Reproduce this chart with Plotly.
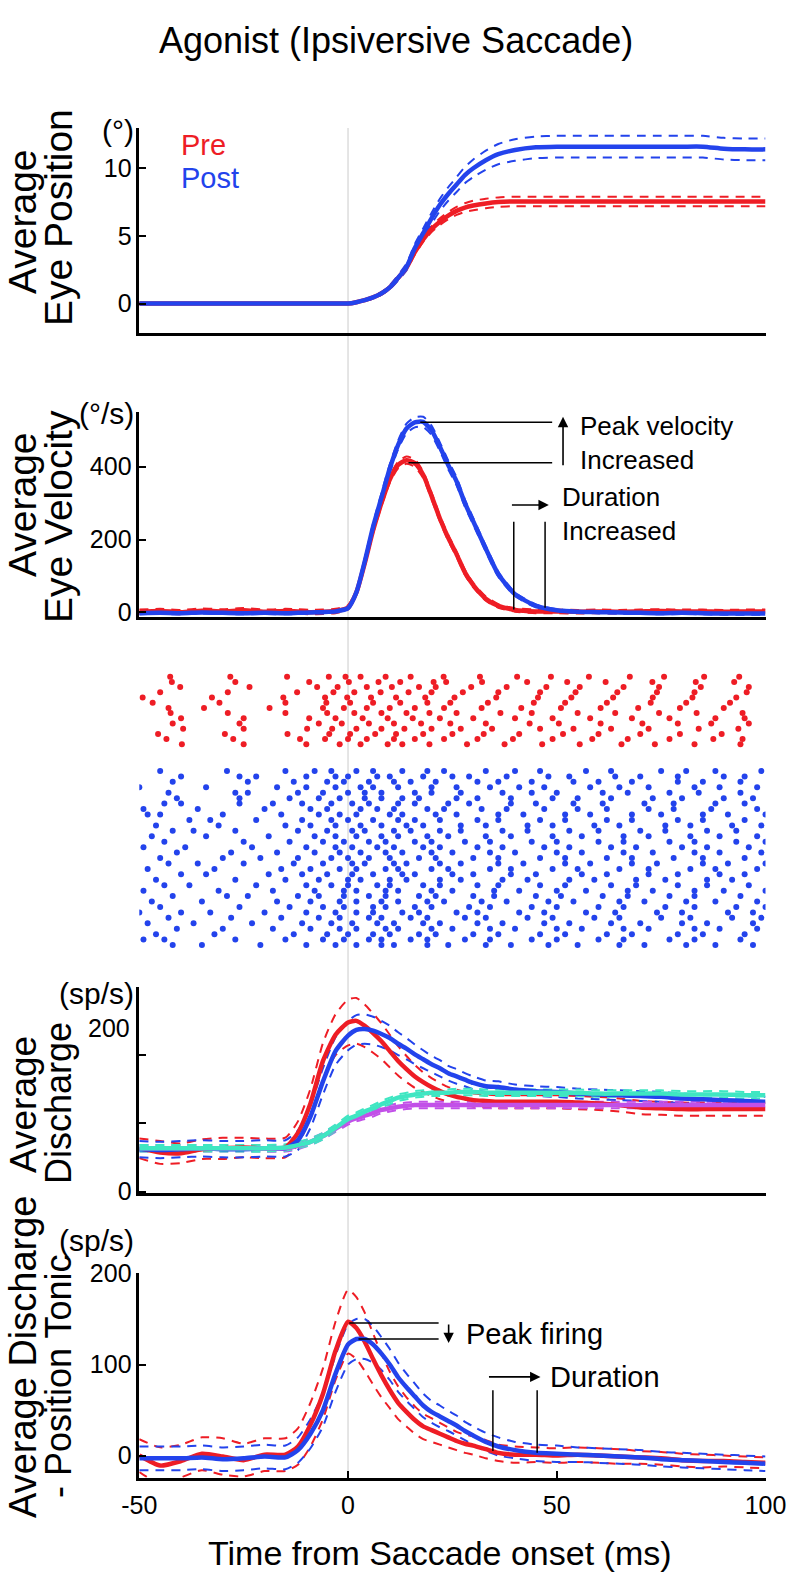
import plotly.graph_objects as go

# ---------------- data ----------------
T = [-50, -45, -40, -35, -30, -25, -20, -15, -12, -9, -6, -3, 0, 2, 4, 6, 8, 10, 12, 14, 16,
     18, 20, 22, 24, 26, 28, 30, 33, 36, 40, 45, 50, 55, 60, 65, 70, 75, 80, 85, 90, 95, 100]

# Panel 1: eye position (deg)
POS_PRE = [0]*12 + [0, 0.1, 0.25, 0.45, 0.75, 1.2, 1.9, 2.65, 3.8, 4.75, 5.5, 6.05, 6.5, 6.85,
                    7.1, 7.25, 7.4, 7.5] + [7.55]*13
POS_PRE_SE = [0]*12 + [0, 0.02, 0.04, 0.06, 0.08, 0.1, 0.12, 0.15, 0.18, 0.2, 0.22, 0.25, 0.27,
                       0.3, 0.32] + [0.35]*16
POS_POST = [0]*12 + [0, 0.1, 0.25, 0.45, 0.75, 1.2, 1.9, 2.7, 4.1, 5.2, 6.3, 7.3, 8.1, 8.8, 9.5,
                     10.0, 10.6, 11.05, 11.35, 11.55, 11.6, 11.6, 11.6, 11.6, 11.6, 11.6, 11.6,
                     11.6, 11.45, 11.4, 11.4]
POS_POST_SE = [0]*12 + [0, 0.02, 0.05, 0.08, 0.1, 0.15, 0.2, 0.25, 0.3, 0.35, 0.4, 0.45, 0.5,
                        0.55, 0.6, 0.65, 0.7, 0.75] + [0.8]*13

# Panel 2: eye velocity (deg/s)
VEL_PRE = [2, 4, 1, 5, 3, 6, 2, 4, 3, 1, 2, 4, 14, 55, 135, 225, 300, 365, 405, 418, 410, 378,
           320, 258, 205, 160, 110, 75, 38, 18, 7, 3, 3, 2, 3, 2, 3, 4, 3, 3, 2, 3, 3]
VEL_PRE_SE = [6]*12 + [6, 6, 7, 8, 8, 9, 9, 10, 10, 9, 9, 8, 8, 7, 7, 6, 6, 5, 5] + [5]*12
VEL_POST = [-2, -1, -2, 0, -1, -2, -1, -2, -1, 0, 1, 3, 12, 55, 140, 235, 315, 395, 460, 505,
            522, 523, 500, 455, 405, 360, 300, 250, 175, 105, 50, 18, 6, 2, 1, 0, -1, -2, -1,
            -2, -3, -3, -3]
VEL_POST_SE = [3]*12 + [3, 5, 8, 10, 12, 12, 12, 13, 14, 14, 13, 12, 12, 11, 10, 9, 8, 7, 5,
                        4] + [3]*11

# Panel 3: spike rasters (spike times in ms, one list per trial)
RED_SPIKES = [
    [-42.6, -28.2, -14.6, -4.6, -0.6, 3.0, 9.0, 15.0, 22.9, 31.6, 40.5, 48.6, 57.7, 67.5, 75.7, 85.3, 93.7],
    [-42.2, -27.0, -9.3, 0.2, 7.3, 12.5, 20.5, 23.5, 32.1, 42.9, 52.5, 61.7, 72.9, 83.3, 92.5],
    [-40.2, -23.6, -7.4, -2.5, 4.5, 10.5, 17.0, 21.0, 29.5, 38.0, 47.5, 55.5, 66.0, 74.5, 84.5, 96.0],
    [-45.0, -28.8, -12.2, -3.5, 1.5, 7.8, 14.5, 20.0, 27.5, 36.0, 46.0, 54.5, 64.5, 74.0, 83.0, 95.5],
    [-49.2, -32.6, -15.5, -5.5, -0.2, 5.5, 11.5, 18.5, 25.5, 35.5, 45.5, 53.5, 63.5, 73.0, 82.5, 93.0],
    [-46.8, -30.8, -15.0, -5.2, 0.5, 6.0, 12.5, 19.0, 24.5, 33.5, 44.5, 52.0, 62.0, 72.5, 81.0, 91.5],
    [-43.0, -34.5, -18.8, -6.0, -1.0, 4.5, 10.0, 16.0, 23.0, 32.0, 41.5, 51.0, 60.5, 69.5, 79.5, 90.0],
    [-42.5, -28.8, -15.0, -5.0, 1.5, 8.0, 14.0, 19.5, 26.0, 36.5, 44.0, 55.0, 64.0, 74.5, 83.5, 94.5],
    [-40.0, -25.0, -9.3, -3.0, 3.5, 9.5, 15.5, 22.0, 30.0, 40.0, 49.0, 58.0, 68.0, 77.0, 88.0, 95.0],
    [-42.0, -26.0, -7.0, -1.5, 5.0, 11.0, 17.5, 24.5, 33.0, 43.5, 50.5, 60.5, 70.5, 79.0, 87.0, 96.0],
    [-39.5, -25.0, -9.8, -3.8, 2.0, 8.0, 13.5, 20.0, 27.0, 34.5, 46.0, 54.0, 63.0, 72.0, 84.0, 93.5],
    [-45.5, -29.5, -14.5, -4.5, 0.5, 6.5, 11.5, 18.0, 25.0, 32.5, 41.0, 51.5, 60.0, 70.0, 79.5, 89.5],
    [-43.5, -27.5, -11.5, -5.5, 0.0, 4.5, 11.0, 16.0, 23.0, 31.0, 39.5, 49.0, 58.5, 67.0, 77.0, 87.5, 94.5],
    [-39.8, -25.0, -10.0, -2.0, 3.0, 9.5, 13.0, 19.5, 28.5, 37.5, 46.5, 55.5, 65.5, 73.5, 83.0, 94.0],
]
BLUE_SPIKES = [
    [-45, -29, -15, -8, -4, 2, 6, 13, 19, 23, 33, 40, 46, 57, 63, 75, 81, 88, 99],
    [-40, -26, -22, -10, -3, 0, 7, 10, 18, 25, 29, 38, 48, 53, 64, 70, 79, 90, 95],
    [-42, -24, -13, -5, -1, 5, 11, 15, 21, 31, 36, 44, 54, 60, 68, 79, 85, 94],
    [-50, -34, -17, -10, -3, 3, 6, 12, 20, 26, 34, 41, 47, 58, 65, 72, 83, 89, 98],
    [-43, -27, -24, -12, -6, 0, 4, 8, 16, 20, 27, 37, 44, 50, 61, 67, 77, 84, 94],
    [-41, -26, -14, -7, -2, 4, 8, 13, 17, 26, 31, 39, 49, 55, 63, 73, 80, 90, 97],
    [-44, -40, -26, -18, -11, -4, 1, 5, 12, 16, 24, 29, 39, 45, 54, 61, 71, 78, 88, 95],
    [-49, -36, -20, -9, -5, 3, 7, 11, 19, 23, 32, 38, 47, 55, 62, 72, 78, 87, 98],
    [-48, -45, -30, -16, -7, -2, 2, 10, 13, 21, 26, 36, 42, 52, 58, 68, 75, 85, 91, 100],
    [-38, -33, -22, -11, -4, 0, 6, 12, 16, 22, 31, 36, 46, 52, 62, 68, 79, 85, 95],
    [-46, -31, -15, -9, -3, 3, 8, 14, 18, 27, 33, 43, 49, 59, 65, 76, 82, 92, 99],
    [-42, -37, -27, -12, -5, 1, 4, 11, 15, 22, 27, 37, 43, 53, 60, 70, 76, 86, 93],
    [-47, -34, -19, -8, -3, 2, 8, 12, 19, 24, 33, 39, 49, 56, 66, 72, 82, 89, 98],
    [-44, -25, -14, -6, -1, 5, 9, 16, 20, 28, 34, 44, 50, 60, 66, 77, 83, 93, 100],
    [-49, -39, -23, -10, -3, 1, 7, 11, 18, 22, 31, 37, 47, 53, 63, 69, 80, 86, 96],
    [-41, -28, -17, -8, -2, 3, 9, 13, 20, 25, 34, 40, 50, 56, 66, 73, 83, 89, 99],
    [-45, -30, -21, -12, -4, 0, 5, 10, 17, 21, 30, 36, 46, 52, 62, 68, 78, 85, 95],
    [-43, -36, -25, -13, -6, 1, 4, 11, 14, 22, 27, 36, 42, 52, 58, 68, 74, 85, 91, 100],
    [-48, -32, -16, -9, -2, 2, 9, 12, 20, 24, 34, 39, 49, 55, 65, 72, 82, 88, 98],
    [-40, -34, -19, -11, -5, 1, 6, 13, 16, 25, 30, 39, 45, 56, 62, 72, 79, 89, 95],
    [-46, -27, -15, -7, 0, 3, 10, 14, 22, 27, 37, 43, 53, 59, 69, 76, 86, 92],
    [-44, -38, -22, -10, -4, 0, 7, 10, 18, 22, 31, 36, 46, 52, 63, 69, 79, 86, 96],
    [-49, -31, -18, -8, -1, 2, 9, 12, 20, 25, 35, 41, 50, 57, 67, 73, 83, 90, 100],
    [-42, -29, -24, -12, -7, -1, 5, 9, 17, 21, 30, 35, 45, 51, 61, 67, 77, 83, 94],
    [-47, -35, -17, -9, -2, 2, 8, 12, 19, 23, 32, 38, 48, 54, 65, 71, 81, 88, 98],
    [-45, -26, -14, -6, -1, 6, 9, 16, 20, 29, 34, 44, 50, 60, 66, 76, 83, 93, 100],
    [-50, -40, -33, -20, -10, -3, 2, 6, 13, 17, 26, 31, 41, 47, 57, 64, 74, 80, 91, 97],
    [-43, -28, -16, -7, -2, 5, 8, 15, 19, 28, 33, 43, 49, 59, 65, 75, 82, 92, 99],
    [-48, -37, -23, -11, -4, 1, 7, 11, 18, 22, 31, 37, 47, 53, 63, 70, 80, 86, 97],
    [-41, -30, -18, -9, -2, 2, 9, 12, 20, 25, 34, 40, 50, 56, 66, 72, 83, 89, 98],
    [-46, -32, -13, -5, 0, 6, 10, 17, 21, 30, 36, 46, 52, 62, 68, 79, 85, 95],
    [-49, -44, -27, -15, -6, -1, 5, 8, 15, 19, 28, 34, 44, 50, 60, 66, 77, 83, 94],
    [-42, -35, -21, -10, -3, 2, 8, 11, 19, 24, 33, 39, 48, 55, 65, 71, 81, 88, 97],
]

# Panel 4: average discharge (sp/s)
FR_PRE = [53, 48, 47, 52, 53, 54, 53, 54, 72, 108, 160, 192, 207, 209, 203, 194, 184, 172, 160,
          150, 141, 134, 128, 123, 119, 116, 114, 112, 111, 110, 110, 110, 110, 109, 108, 106,
          103, 102, 101, 101, 101, 101, 101]
FR_PRE_SE = [12, 14, 12, 12, 13, 12, 12, 12, 14, 18, 22, 25, 28, 28, 26, 24, 22, 20, 18, 16, 14,
             12, 11, 10, 9, 9] + [8]*17
FR_POST = [52, 51, 52, 53, 52, 52, 53, 53, 63, 92, 135, 172, 191, 198, 199, 197, 193, 188, 181,
           175, 168, 162, 156, 151, 145, 141, 137, 133, 129, 128, 125, 123, 122, 120, 119, 118,
           117, 116, 114, 113, 112, 111, 110]
FR_POST_SE = [10]*8 + [12, 14, 16, 17, 18, 18, 18, 17, 16, 15, 14, 13, 12, 11, 10, 10, 9, 9, 8,
                       8, 7, 7] + [6]*13
TONIC_POST = [53, 53, 53, 53, 53, 53, 53, 54, 57, 61, 68, 78, 89, 93, 98, 102, 107, 111, 115, 117,
              119, 120, 121, 121, 121, 122, 122, 122, 121, 121, 121, 121, 121, 121, 120, 120, 120,
              120, 119, 119, 119, 118, 118]
TONIC_POST_SE = [4]*43
TONIC_PRE = [53]*8 + [56, 61, 68, 77, 86, 90, 93, 96, 100, 102, 104, 105] + [106]*23
TONIC_PRE_SE = [4]*43

# Panel 5: discharge minus position tonic (sp/s)
DT_PRE = [0, -11, -6, 2, -1, -5, 1, 1, 10, 34, 68, 115, 147, 140, 125, 106, 88, 72, 58, 48, 39,
          32, 28, 24, 20, 16, 13, 11, 7, 3, 1, 1, 0, 1, 0, -1, -2, -3, -5, -6, -6, -7, -8]
DT_PRE_SE = [18, 20, 18, 18, 20, 18, 18, 18, 20, 24, 28, 32, 35, 34, 32, 28, 24, 20, 18, 16, 15,
             14, 13, 12, 11, 10, 10, 10, 10, 9, 9, 8, 8, 8, 8, 8, 7, 7, 7, 7, 6, 6, 6]
DT_POST = [-3, -3, -3, -2, -4, -3, -1, -2, 6, 24, 50, 90, 122, 128, 128, 122, 112, 100, 86, 75,
           65, 55, 48, 43, 38, 33, 27, 22, 15, 10, 6, 3, 2, 1, 0, -1, -2, -4, -5, -6, -7, -8, -9]
DT_POST_SE = [13]*8 + [14, 16, 18, 20, 22, 22, 22, 20, 18, 17, 16, 15, 14, 13, 12, 12, 11, 11,
                       10, 10, 10, 10, 9, 9, 9] + [8]*10

# Annotation markers (ms / units)
VEL_PEAK_POST, VEL_PEAK_PRE = 522, 411
VEL_DUR_PRE, VEL_DUR_POST = 39.7, 47.2
FR_PEAK_PRE, FR_PEAK_POST = 145.5, 128
FR_DUR_PRE, FR_DUR_POST = 34.7, 45.3

# ---------------- styling ----------------
RED = "#EE1D25"
BLUE = "#2343EC"
CYAN = "#3FE6C2"
MAG = "#C250E8"
FONT = "Liberation Sans, Arial, sans-serif"
W, H = 791, 1575
XL, XR = 139.3, 765.5


def py(p):
    return 1 - p / H


def px(p):
    return p / W


fig = go.Figure()


def band(xa, ya, m, se, color, width=2):
    up = [a + b for a, b in zip(m, se)]
    lo = [a - b for a, b in zip(m, se)]
    for arr in (up, lo):
        fig.add_trace(go.Scatter(x=T, y=arr, mode="lines", xaxis=xa, yaxis=ya,
                                 line=dict(color=color, width=width, dash="9px,7px",
                                           shape="spline", smoothing=0.6),
                                 hoverinfo="skip", showlegend=False))


def solid(xa, ya, m, color, width=4.5):
    fig.add_trace(go.Scatter(x=T, y=m, mode="lines", xaxis=xa, yaxis=ya,
                             line=dict(color=color, width=width, shape="spline", smoothing=0.6),
                             showlegend=False))


# Panel 1
band("x", "y", POS_PRE, POS_PRE_SE, RED)
band("x", "y", POS_POST, POS_POST_SE, BLUE)
solid("x", "y", POS_PRE, RED)
solid("x", "y", POS_POST, BLUE)

# Panel 2
band("x2", "y2", VEL_PRE, VEL_PRE_SE, RED)
band("x2", "y2", VEL_POST, VEL_POST_SE, BLUE)
solid("x2", "y2", VEL_PRE, RED)
solid("x2", "y2", VEL_POST, BLUE)

# Panel 3 raster
rx, ry = [], []
for i, trial in enumerate(RED_SPIKES):
    rx += trial
    ry += [i] * len(trial)
bx, by = [], []
for j, trial in enumerate(BLUE_SPIKES):
    bx += trial
    by += [18.13 + 1.046 * j] * len(trial)
fig.add_trace(go.Scatter(x=rx, y=ry, mode="markers", xaxis="x3", yaxis="y3",
                         marker=dict(color=RED, size=6, line=dict(width=0)), showlegend=False))
fig.add_trace(go.Scatter(x=bx, y=by, mode="markers", xaxis="x3", yaxis="y3",
                         marker=dict(color=BLUE, size=6, line=dict(width=0)), showlegend=False))

# Panel 4
band("x4", "y4", FR_PRE, FR_PRE_SE, RED)
band("x4", "y4", FR_POST, FR_POST_SE, BLUE)
band("x4", "y4", TONIC_PRE, TONIC_PRE_SE, MAG)
band("x4", "y4", TONIC_POST, TONIC_POST_SE, CYAN)
solid("x4", "y4", FR_PRE, RED)
solid("x4", "y4", FR_POST, BLUE)
solid("x4", "y4", TONIC_PRE, MAG)
solid("x4", "y4", TONIC_POST, CYAN)

# Panel 5
band("x5", "y5", DT_PRE, DT_PRE_SE, RED)
band("x5", "y5", DT_POST, DT_POST_SE, BLUE)
solid("x5", "y5", DT_PRE, RED)
solid("x5", "y5", DT_POST, BLUE)

# ---------------- axes ----------------
panels = {
    "": (128, 333.3, [-2.2, 12.98], [0, 5, 10], ["0", "5", "10"]),
    "2": (411.7, 617.3, [-13.2, 551], [0, 200, 400], ["0", "200", "400"]),
    "4": (986.7, 1193.3, [-2, 250.8], [0, 83.7, 167.3], ["0", "", ""]),
    "5": (1273, 1477.7, [-24.3, 200.5], [0, 100, 200], ["0", "100", "200"]),
}
layout = dict(template="none", width=W, height=H, autosize=False,
              margin=dict(l=0, r=0, t=0, b=0, pad=0),
              paper_bgcolor="white", plot_bgcolor="rgba(0,0,0,0)",
              font=dict(family=FONT, color="black"), showlegend=False)

for k, (top, bot, yr, tv, tt) in panels.items():
    layout["xaxis" + k] = dict(domain=[px(XL), px(XR)], range=[-50, 100], anchor="y" + k,
                               showline=True, linecolor="black", linewidth=2.5,
                               showgrid=False, zeroline=False, ticks="",
                               showticklabels=False, fixedrange=True, automargin=False)
    layout["yaxis" + k] = dict(domain=[py(bot), py(top)], range=yr, anchor="x" + k,
                               showline=True, linecolor="black", linewidth=2.5,
                               showgrid=False, zeroline=False, ticks="inside", ticklen=7,
                               tickwidth=2, tickcolor="black", tickvals=tv, ticktext=tt,
                               tickfont=dict(size=25, family=FONT, color="black"),
                               fixedrange=True, automargin=False)

layout["xaxis5"].update(ticks="inside", ticklen=7, tickwidth=2, tickcolor="black",
                        tickvals=[-50, 0, 50, 100], ticktext=["-50", "0", "50", "100"],
                        showticklabels=True, ticklabelstandoff=4,
                        tickfont=dict(size=25, family=FONT, color="black"))
layout["xaxis3"] = dict(domain=[px(XL), px(XR)], range=[-50, 100], anchor="y3",
                        visible=False, fixedrange=True, automargin=False)
layout["yaxis3"] = dict(domain=[py(952), py(670)], range=[52.94, -1.29], anchor="x3",
                        visible=False, fixedrange=True, automargin=False)

# ---------------- shapes ----------------
shapes = [
    dict(type="line", xref="x", x0=0, x1=0, yref="paper", y0=py(1478), y1=py(128),
         line=dict(color="#DDDDDD", width=1.5), layer="below"),
    # velocity peak markers
    dict(type="line", xref="x2", yref="y2", x0=17.3, x1=48.9, y0=VEL_PEAK_POST, y1=VEL_PEAK_POST,
         line=dict(color="black", width=1.5)),
    dict(type="line", xref="x2", yref="y2", x0=14.5, x1=48.9, y0=VEL_PEAK_PRE, y1=VEL_PEAK_PRE,
         line=dict(color="black", width=1.5)),
    dict(type="line", xref="x2", yref="y2", x0=VEL_DUR_PRE, x1=VEL_DUR_PRE, y0=249, y1=8,
         line=dict(color="black", width=1.5)),
    dict(type="line", xref="x2", yref="y2", x0=VEL_DUR_POST, x1=VEL_DUR_POST, y0=249, y1=13,
         line=dict(color="black", width=1.5)),
    # firing peak markers
    dict(type="line", xref="x5", yref="y5", x0=0.3, x1=21.7, y0=FR_PEAK_PRE, y1=FR_PEAK_PRE,
         line=dict(color="black", width=1.5)),
    dict(type="line", xref="x5", yref="y5", x0=2.5, x1=21.7, y0=FR_PEAK_POST, y1=FR_PEAK_POST,
         line=dict(color="black", width=1.5)),
    dict(type="line", xref="x5", yref="y5", x0=FR_DUR_PRE, x1=FR_DUR_PRE, y0=71.8, y1=5,
         line=dict(color="black", width=1.5)),
    dict(type="line", xref="x5", yref="y5", x0=FR_DUR_POST, x1=FR_DUR_POST, y0=71.8, y1=3,
         line=dict(color="black", width=1.5)),
]
layout["shapes"] = shapes

# ---------------- annotations ----------------
ann = []


def txt(text, x, y, size, xanchor="center", color="black", angle=0, xref="paper", yref="paper"):
    ann.append(dict(text=text, x=x, y=y, xref=xref, yref=yref, showarrow=False,
                    xanchor=xanchor, yanchor="middle", textangle=angle, borderpad=0,
                    align="left" if xanchor == "left" else "center",
                    font=dict(size=size, family=FONT, color=color)))


def arrow(xa, ya, x0, y0, x1, y1):
    ann.append(dict(text="", x=x1, y=y1, ax=x0, ay=y0, xref=xa, yref=ya, axref=xa, ayref=ya,
                    showarrow=True, arrowhead=2, arrowsize=1.3, arrowwidth=1.6,
                    arrowcolor="black"))


txt("Agonist (Ipsiversive Saccade)", px(395.5), py(40), 36)
txt("Time from Saccade onset (ms)", px(440), py(1553), 34)

# y titles
txt("Average", px(23), py(222), 39, angle=-90)
txt("Eye Position", px(58), py(218), 39, angle=-90)
txt("Average", px(23), py(505), 39, angle=-90)
txt("Eye Velocity", px(58), py(517), 39, angle=-90)
txt("Average", px(23), py(1105), 37, angle=-90)
txt("Discharge", px(58), py(1103), 36, angle=-90)
txt("Average Discharge", px(23), py(1357), 38, angle=-90)
txt("- Position Tonic", px(58), py(1377), 36, angle=-90)

# units
txt("(°)", px(135), py(130), 30, xanchor="right")
txt("(°/s)", px(135), py(413), 30, xanchor="right")
txt("(sp/s)", px(135), py(993), 30, xanchor="right")
txt("200", px(131), py(1028.3), 25, xanchor="right")
txt("(sp/s)", px(135), py(1240), 30, xanchor="right")

# legend
txt("Pre", px(180), py(145), 29, xanchor="left", color=RED)
txt("Post", px(180), py(178), 29, xanchor="left", color=BLUE)

# velocity annotations
arrow("x2", "y2", 51.5, 400, 51.5, 537)
txt("Peak velocity<br>Increased", 55.3, 465, 26, xanchor="left", xref="x2", yref="y2")
arrow("x2", "y2", 38.9, 295, 48.1, 295)
txt("Duration<br>Increased", 50.9, 270, 26, xanchor="left", xref="x2", yref="y2")

# firing annotations
arrow("x5", "y5", 24.1, 145.5, 24.1, 123.5)
txt("Peak firing", 28.1, 134, 29, xanchor="left", xref="x5", yref="y5")
arrow("x5", "y5", 33.4, 86.4, 46.1, 86.4)
txt("Duration", 48.1, 86.4, 29, xanchor="left", xref="x5", yref="y5")

layout["annotations"] = ann
fig.update_layout(**layout)
fig.write_html("out.html", config={"displayModeBar": False},
               post_script="document.body.style.margin='0px';document.body.style.overflow='hidden';")
